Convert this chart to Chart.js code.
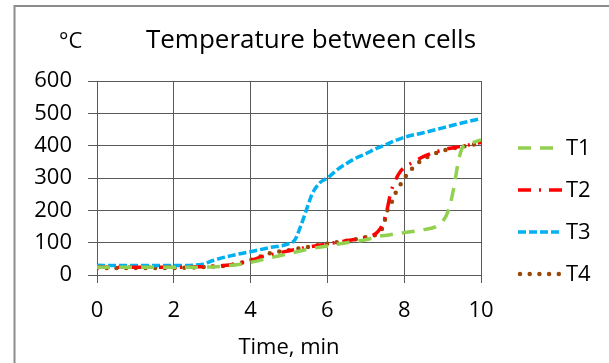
<!DOCTYPE html>
<html>
<head>
<meta charset="utf-8">
<title>Temperature between cells</title>
<script src="https://cdn.jsdelivr.net/npm/chart.js@4.4.1/dist/chart.umd.min.js"></script>
<style>
    html, body { margin: 0; padding: 0; background: #fff; }
    #chartContainer { position: relative; width: 609px; height: 363px; }
</style>
</head>
<body>
<div id="chartContainer">
    <canvas id="temperatureChart"></canvas>
</div>
<script>
/**
 * Temperature between cells - Chart.js line chart
 */

const FONT_FAMILY = '"Open Sans", "DejaVu Sans", sans-serif';

// Axis ticks
const xTicks = [0, 2, 4, 6, 8, 10];
const yTicks = [0, 100, 200, 300, 400, 500, 600];

// Series names
const seriesNames = ['T1', 'T2', 'T3', 'T4'];

// T1
const t1Time = [0, 1, 2, 2.5, 3, 3.5, 4, 4.5, 5, 5.5, 6, 6.5, 7, 7.3, 7.6, 8, 8.5, 8.9, 9.1, 9.2, 9.3, 9.4, 9.5, 9.6, 9.8, 10];
const t1Temp = [24, 24, 24, 24, 25, 30, 39, 53, 66, 80, 90, 100, 109, 119, 124, 131, 140, 155, 185, 220, 275, 345, 390, 402, 410, 418];

// T2
const t2Time = [0, 0.5, 1, 1.5, 2, 2.5, 3, 3.5, 4, 4.25, 4.5, 5, 5.5, 6, 6.5, 7, 7.3, 7.45, 7.55, 7.65, 7.8, 7.9, 8, 8.25, 8.5, 9, 9.5, 10];
const t2Temp = [24, 24, 24, 24, 24, 25, 27, 32, 45, 55, 62, 75, 86, 96, 106, 116, 132, 160, 200, 255, 300, 320, 332, 350, 366, 387, 398, 410];

// T3
const t3Time = [0, 0.5, 1, 1.5, 2, 2.5, 2.8, 3, 3.5, 4, 4.5, 5, 5.15, 5.3, 5.45, 5.6, 5.8, 6, 6.25, 6.5, 6.75, 7, 7.25, 7.5, 7.75, 8, 8.5, 9, 9.5, 10];
const t3Temp = [30, 29, 29, 29, 29, 30, 35, 44, 60, 72, 85, 97, 108, 150, 200, 250, 285, 300, 325, 345, 362, 375, 390, 402, 415, 426, 440, 455, 470, 484];

// T4
const t4Time = [0, 0.5, 1, 1.5, 2, 2.5, 3, 3.5, 4, 4.2, 4.5, 5, 5.5, 6, 6.5, 7, 7.3, 7.45, 7.56, 7.69, 7.78, 7.9, 8, 8.27, 8.47, 8.77, 9.03, 9.29, 9.73, 10];
const t4Temp = [22, 22, 22, 22, 22, 23, 26, 31, 46, 55, 67, 77, 87, 97, 106, 117, 128, 150, 199, 229, 255, 279, 299, 337, 356, 374, 385, 392, 402, 408];

// Excel-like series styling
const SERIES_STYLES = [
    { color: '#92D050', dash: [13, 9], cap: 'butt', width: 3.5 },
    { color: '#FF0000', dash: [13, 8, 2, 8], cap: 'butt', width: 3.5 },
    { color: '#00B0F0', dash: [8, 3], cap: 'butt', width: 3.5 },
    { color: '#984807', dash: [0, 9.7], cap: 'round', width: 4.5 }
];

/**
 * Pair time and temperature arrays into {x, y} points
 */
function toPoints(times, temps) {
    return times.map((t, i) => ({ x: t, y: temps[i] }));
}

/**
 * Frame, unit label, title and legend drawn on top of the chart
 */
const decorPlugin = {
    id: 'decor',
    afterDraw(chart) {
        const ctx = chart.ctx;
        ctx.save();

        // outer frame
        ctx.strokeStyle = '#8c8c8c';
        ctx.lineWidth = 2;
        ctx.strokeRect(14.5, 6, 700, 500);

        ctx.fillStyle = '#000';
        ctx.textBaseline = 'alphabetic';

        // unit
        ctx.font = '22px ' + FONT_FAMILY;
        ctx.textAlign = 'left';
        ctx.fillText('°C', 59, 48);

        // title
        ctx.font = '26px ' + FONT_FAMILY;
        ctx.textAlign = 'center';
        ctx.fillText('Temperature between cells', 311, 48);

        // legend
        const rows = [148, 190, 232, 274];
        ctx.font = '22px ' + FONT_FAMILY;
        ctx.textAlign = 'left';
        ctx.textBaseline = 'middle';
        seriesNames.forEach((name, i) => {
            const s = SERIES_STYLES[i];
            const y = rows[i];
            ctx.save();
            ctx.strokeStyle = s.color;
            ctx.lineWidth = s.width;
            ctx.lineCap = s.cap;
            ctx.setLineDash(s.dash);
            ctx.beginPath();
            ctx.moveTo(i === 3 ? 520 : 518, y);
            ctx.lineTo(562, y);
            ctx.stroke();
            ctx.restore();
            ctx.fillText(name, 566, y + 1);
        });

        ctx.restore();
    }
};

/**
 * Create the temperature line chart
 */
function createTemperatureChart(canvasId) {
    const ctx = document.getElementById(canvasId);
    if (!ctx) {
        console.error(`Canvas element ${canvasId} not found`);
        return null;
    }

    const series = [
        toPoints(t1Time, t1Temp),
        toPoints(t2Time, t2Temp),
        toPoints(t3Time, t3Temp),
        toPoints(t4Time, t4Temp)
    ];

    const datasets = series.map((data, i) => ({
        label: seriesNames[i],
        data: data,
        borderColor: SERIES_STYLES[i].color,
        backgroundColor: SERIES_STYLES[i].color,
        borderWidth: SERIES_STYLES[i].width,
        borderDash: SERIES_STYLES[i].dash,
        borderCapStyle: SERIES_STYLES[i].cap,
        pointRadius: 0,
        fill: false,
        cubicInterpolationMode: 'monotone'
    }));

    const gridColor = '#5a5a5a';

    return new Chart(ctx, {
        type: 'line',
        data: { datasets: datasets },
        options: {
            responsive: true,
            maintainAspectRatio: false,
            animation: false,
            layout: {
                padding: { top: 81, right: 128, left: 0, bottom: 0 }
            },
            plugins: {
                legend: { display: false },
                title: { display: false },
                tooltip: { enabled: false }
            },
            scales: {
                x: {
                    type: 'linear',
                    min: xTicks[0],
                    max: xTicks[xTicks.length - 1],
                    afterBuildTicks: (scale) => {
                        scale.ticks = xTicks.map(v => ({ value: v }));
                    },
                    afterFit: (scale) => { scale.height = 88; },
                    grid: { color: gridColor, lineWidth: 1, tickLength: 8 },
                    border: { color: gridColor },
                    ticks: {
                        color: '#000',
                        padding: 15,
                        maxRotation: 0,
                        font: { family: FONT_FAMILY, size: 22 }
                    },
                    title: {
                        display: true,
                        text: 'Time, min',
                        color: '#000',
                        padding: { top: 2, bottom: 2 },
                        font: { family: FONT_FAMILY, size: 22 }
                    }
                },
                y: {
                    min: yTicks[0],
                    max: yTicks[yTicks.length - 1],
                    afterBuildTicks: (scale) => {
                        scale.ticks = yTicks.map(v => ({ value: v }));
                    },
                    afterFit: (scale) => { scale.width = 97; },
                    grid: { color: gridColor, lineWidth: 1, tickLength: 9 },
                    border: { color: gridColor },
                    ticks: {
                        color: '#000',
                        padding: 16,
                        font: { family: FONT_FAMILY, size: 22 }
                    }
                }
            }
        },
        plugins: [decorPlugin]
    });
}

document.addEventListener('DOMContentLoaded', () => {
    createTemperatureChart('temperatureChart');
});
</script>
</body>
</html>
